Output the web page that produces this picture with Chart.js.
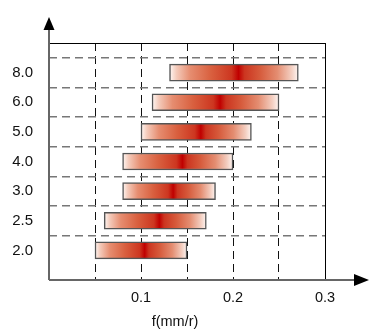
<!DOCTYPE html>
<html>
<head>
<meta charset="utf-8">
<script src="https://cdn.jsdelivr.net/npm/chart.js@4"></script>
<style>
  html, body { margin: 0; padding: 0; background: #fff; }
  #wrap { width: 369px; height: 330px; }
</style>
</head>
<body>
<div id="wrap"><canvas id="myChart"></canvas></div>
<script>
// speeds, top to bottom
const categories = ['8.0', '6.0', '5.0', '4.0', '3.0', '2.5', '2.0'];
// feed range per speed
const lows  = [0.131, 0.112, 0.100, 0.080, 0.080, 0.060, 0.050];
const highs = [0.271, 0.250, 0.220, 0.200, 0.181, 0.171, 0.150];
// where the dark red core sits
const peaks = [0.206, 0.186, 0.165, 0.145, 0.135, 0.120, 0.104];
const xTickLabels = [0.1, 0.2, 0.3];
const xTitle = 'f(mm/r)';

const FONT = '"Liberation Sans", Arial, Helvetica, sans-serif';

// empty slot above and below so the rows sit one step in from the frame
const labels = [''].concat(categories, ['']);
const ranges = [null].concat(categories.map((c, i) => [lows[i], highs[i]]), [null]);

function barFill(ctx) {
    const chart = ctx.chart;
    const i = ctx.dataIndex - 1;
    if (!chart.chartArea || i < 0 || i >= categories.length) return '#c00000';
    const xs = chart.scales.x;
    const x0 = xs.getPixelForValue(lows[i]);
    const x1 = xs.getPixelForValue(highs[i]);
    const p = (peaks[i] - lows[i]) / (highs[i] - lows[i]);
    const g = chart.ctx.createLinearGradient(x0, 0, x1, 0);
    g.addColorStop(0, '#fff8f5');
    g.addColorStop(p * 0.1, '#f4cbbb');
    g.addColorStop(p * 0.3, '#e68d70');
    g.addColorStop(p * 0.6, '#d9603f');
    g.addColorStop(p * 0.9, '#cd3620');
    g.addColorStop(p, '#c00000');
    g.addColorStop(p + (1 - p) * 0.1, '#cc3520');
    g.addColorStop(p + (1 - p) * 0.35, '#d65a3b');
    g.addColorStop(p + (1 - p) * 0.65, '#e48d71');
    g.addColorStop(p + (1 - p) * 0.88, '#f3cdbf');
    g.addColorStop(1, '#fef6f3');
    return g;
}

// axis arrows, frame and axis title
const framePlugin = {
    id: 'frame',
    afterDraw(chart) {
        const c = chart.ctx;
        const a = chart.chartArea;
        c.save();
        c.setLineDash([]);
        // top + right frame
        c.strokeStyle = '#000';
        c.lineWidth = 1;
        c.beginPath();
        c.moveTo(a.left, a.top + 0.5);
        c.lineTo(a.right + 0.5, a.top + 0.5);
        c.lineTo(a.right + 0.5, a.bottom);
        c.stroke();
        // axes
        c.strokeStyle = '#666';
        c.lineWidth = 2;
        c.beginPath();
        c.moveTo(a.left, a.bottom);
        c.lineTo(a.left, a.top - 14);
        c.moveTo(a.left, a.bottom);
        c.lineTo(a.right + 29, a.bottom);
        c.stroke();
        // arrow heads
        c.fillStyle = '#000';
        c.beginPath();
        c.moveTo(a.left, a.top - 26);
        c.lineTo(a.left - 5.5, a.top - 13);
        c.lineTo(a.left + 5.5, a.top - 13);
        c.closePath();
        c.fill();
        c.beginPath();
        c.moveTo(a.right + 44, a.bottom);
        c.lineTo(a.right + 29, a.bottom - 6);
        c.lineTo(a.right + 29, a.bottom + 6);
        c.closePath();
        c.fill();
        // title
        c.fillStyle = '#111';
        c.font = '14.5px ' + FONT;
        c.textAlign = 'center';
        c.textBaseline = 'middle';
        c.fillText(xTitle, a.left + 126, a.bottom + 42);
        c.restore();
    }
};

const config = {
    type: 'bar',
    data: {
        labels: labels,
        datasets: [{
            data: ranges,
            backgroundColor: barFill,
            borderColor: '#555',
            borderWidth: 1.5,
            borderSkipped: false,
            barThickness: 17
        }]
    },
    options: {
        indexAxis: 'y',
        responsive: true,
        maintainAspectRatio: false,
        animation: false,
        layout: { padding: { top: 43, right: 44, left: 0, bottom: 0 } },
        scales: {
            x: {
                type: 'linear',
                min: 0,
                max: 0.3,
                afterFit: (s) => { s.height = 50; },
                grid: {
                    drawTicks: false,
                    color: '#111',
                    lineWidth: 1
                },
                border: { display: false, dash: [8, 5] },
                ticks: {
                    stepSize: 0.05,
                    padding: 9,
                    color: '#111',
                    font: { family: FONT, size: 14.5 },
                    callback: (v) => {
                        const hit = xTickLabels.find((t) => Math.abs(t - v) < 1e-6);
                        return hit !== undefined ? String(hit) : '';
                    }
                }
            },
            y: {
                type: 'category',
                offset: false,
                afterFit: (s) => { s.width = 49; },
                grid: {
                    drawTicks: false,
                    color: (ctx) => (ctx.index === 0 || ctx.index === labels.length - 1) ? 'rgba(0,0,0,0)' : '#777',
                    lineWidth: 1.5
                },
                border: { display: false, dash: [8, 5] },
                ticks: {
                    padding: 16,
                    color: '#111',
                    font: { family: FONT, size: 15 }
                }
            }
        },
        plugins: {
            legend: { display: false },
            tooltip: { enabled: false }
        }
    },
    plugins: [framePlugin]
};

const myChart = new Chart(document.getElementById('myChart'), config);
</script>
</body>
</html>
